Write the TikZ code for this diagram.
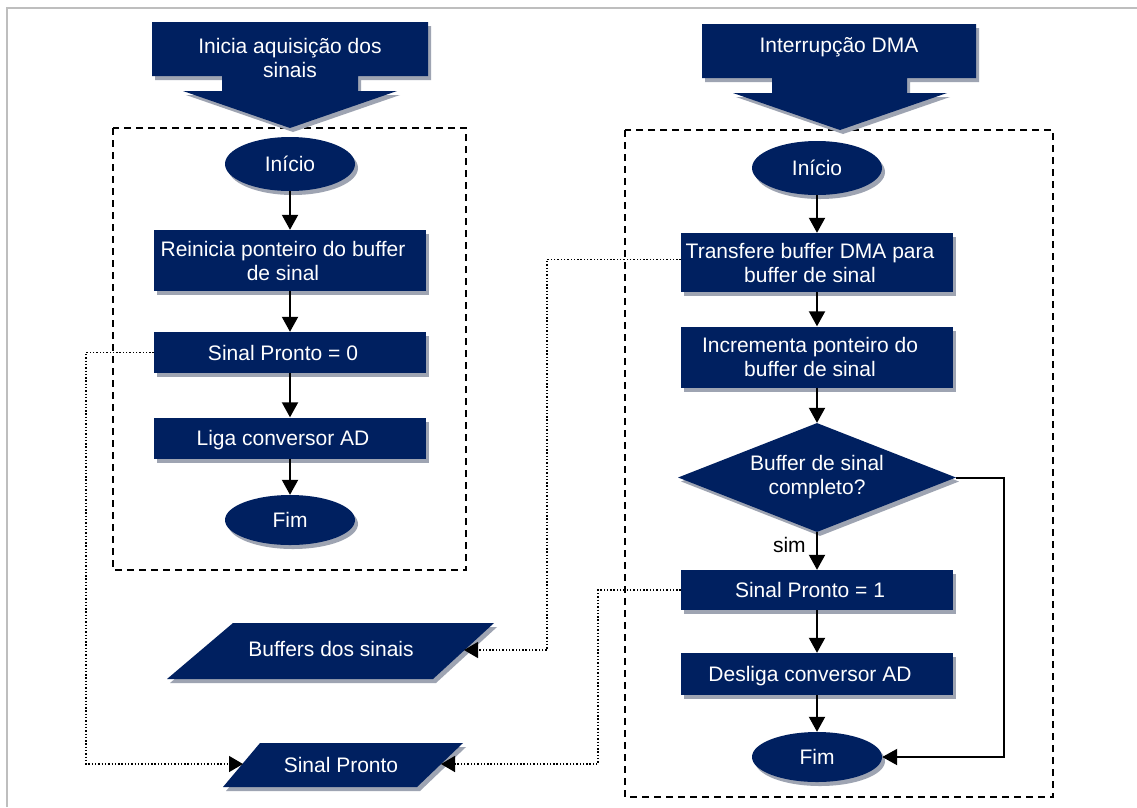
\documentclass[tikz,border=0pt]{standalone}
\usepackage{fontspec}
\setmainfont{Liberation Sans}
\usetikzlibrary{shapes.geometric,arrows.meta,shadows}
\definecolor{navy}{RGB}{0,32,96}
\definecolor{shd}{RGB}{158,164,178}
\definecolor{framec}{RGB}{190,190,190}
\newcommand{\bxtext}[1]{\raisebox{-3pt}[\height][\depth]{\begin{tabular}{@{}c@{\hspace{14pt}}}#1\end{tabular}}}
\begin{document}
\begin{tikzpicture}[x=1pt,y=-1pt,
 font=\fontsize{21}{24}\selectfont,
 shad/.style={drop shadow={shadow xshift=3pt,shadow yshift=-4pt,fill=shd,opacity=1}},
 blk/.style={fill=navy,text=white,shad,inner sep=0pt,align=center},
 proc/.style={blk,rectangle,minimum width=272pt},
 term/.style={blk,ellipse,minimum width=130pt,minimum height=54pt},
 dec/.style={blk,diamond,aspect=2.55,minimum width=278pt,minimum height=109pt},
 flow/.style={line width=2pt,-{Triangle[width=16pt,length=15pt]}},
 dotc/.style={line width=1.4pt,dash pattern=on 1.4pt off 1.9pt,-{Triangle[width=16pt,length=14pt]}},
 region/.style={line width=2pt,dash pattern=on 7pt off 5pt},
 bigarrow/.style={fill=navy},
 bigshadow/.style={fill=shd,shift={(3,4)}},
 wtext/.style={text=white,align=center,inner sep=0pt}
]
\useasboundingbox (0,0) rectangle (1137,807);
\fill[white] (0,0) rectangle (1137,807);
% frame
\draw[framec,line width=2pt] (7,807) -- (7,8) -- (1137,8);

% dashed regions
\draw[region] (113,128) rectangle (466,570);
\draw[region] (625,130) rectangle (1053,797);

% big arrows
\fill[bigshadow] (152,22) -- (428,22) -- (428,76) -- (358,76) -- (358,91) -- (397,91) -- (290,128) -- (183,91) -- (222,91) -- (222,76) -- (152,76) -- cycle;
\fill[bigarrow] (152,22) -- (428,22) -- (428,76) -- (358,76) -- (358,91) -- (397,91) -- (290,128) -- (183,91) -- (222,91) -- (222,76) -- (152,76) -- cycle;
\node[wtext] (ia) at (290,57.5) {Inicia aquisição dos\\sinais};

\fill[bigshadow] (702,24) -- (976,24) -- (976,78) -- (907,78) -- (907,93) -- (947,93) -- (840,130) -- (733,93) -- (772,93) -- (772,78) -- (702,78) -- cycle;
\fill[bigarrow] (702,24) -- (976,24) -- (976,78) -- (907,78) -- (907,93) -- (947,93) -- (840,130) -- (733,93) -- (772,93) -- (772,78) -- (702,78) -- cycle;
\node[wtext] (id) at (839,47) {Interrupção DMA};

% left flow
\node[term] (s1) at (290,164) {Início};
\node[proc,minimum height=61pt] (r1) at (290,260.5) {\bxtext{Reinicia ponteiro do buffer\\de sinal}};
\node[proc,minimum height=41pt] (p0) at (290,352.5) {\bxtext{Sinal Pronto = 0}};
\node[proc,minimum height=41pt] (l1) at (290,438) {\bxtext{Liga conversor AD}};
\node[term,minimum height=50pt] (f1) at (290,520) {Fim};

\draw[flow] (s1) -- (r1);
\draw[flow] (r1) -- (p0);
\draw[flow] (p0) -- (l1);
\draw[flow] (l1) -- (f1);

% right flow
\node[term] (s2) at (817,168) {Início};
\node[proc,minimum height=59pt] (t2) at (817,262.5) {\bxtext{Transfere buffer DMA para\\buffer de sinal}};
\node[proc,minimum height=61pt] (i2) at (817,357) {\bxtext{Incrementa ponteiro do\\buffer de sinal}};
\node[dec] (d2) at (817,477.5) {Buffer de sinal\\completo?};
\node[proc,minimum height=40pt] (p1) at (817,590) {\bxtext{Sinal Pronto = 1}};
\node[proc,minimum height=42pt] (o2) at (817,674) {\bxtext{Desliga conversor AD}};
\node[term,minimum height=50pt] (f2) at (817,757) {Fim};

\draw[flow] (s2) -- (t2);
\draw[flow] (t2) -- (i2);
\draw[flow] (i2) -- (d2);
\draw[flow] (d2) -- node[pos=0.35,left=7pt]{sim} (p1);
\draw[flow] (p1) -- (o2);
\draw[flow] (o2) -- (f2);
\draw[flow] (d2.east) -- ++(48,0) |- (f2.east);

% data parallelograms
\fill[shd,shift={(3,4)}] (233,623) -- (494,623) -- (433,679) -- (167,679) -- cycle;
\fill[navy] (233,623) -- (494,623) -- (433,679) -- (167,679) -- cycle;
\node[wtext] (bf) at (331,649) {Buffers dos sinais};
\coordinate (bfR) at (464,650);

\fill[shd,shift={(3,4)}] (260,743) -- (463,743) -- (417,787) -- (223,787) -- cycle;
\fill[navy] (260,743) -- (463,743) -- (417,787) -- (223,787) -- cycle;
\node[wtext] (spn) at (341,765) {Sinal Pronto};
\coordinate (spL) at (243,764);
\coordinate (spR) at (441,764);

% dotted data connectors
\coordinate (k1) at (86,764);
\coordinate (k2) at (547,650);
\coordinate (k3) at (598,764);
\draw[dotc] (p0.west) -| (k1) -- (spL);
\draw[dotc] ([yshift=3pt]t2.west) -| (k2) -- (bfR);
\draw[dotc] (p1.west) -| (k3) -- (spR);
\end{tikzpicture}
\end{document}
